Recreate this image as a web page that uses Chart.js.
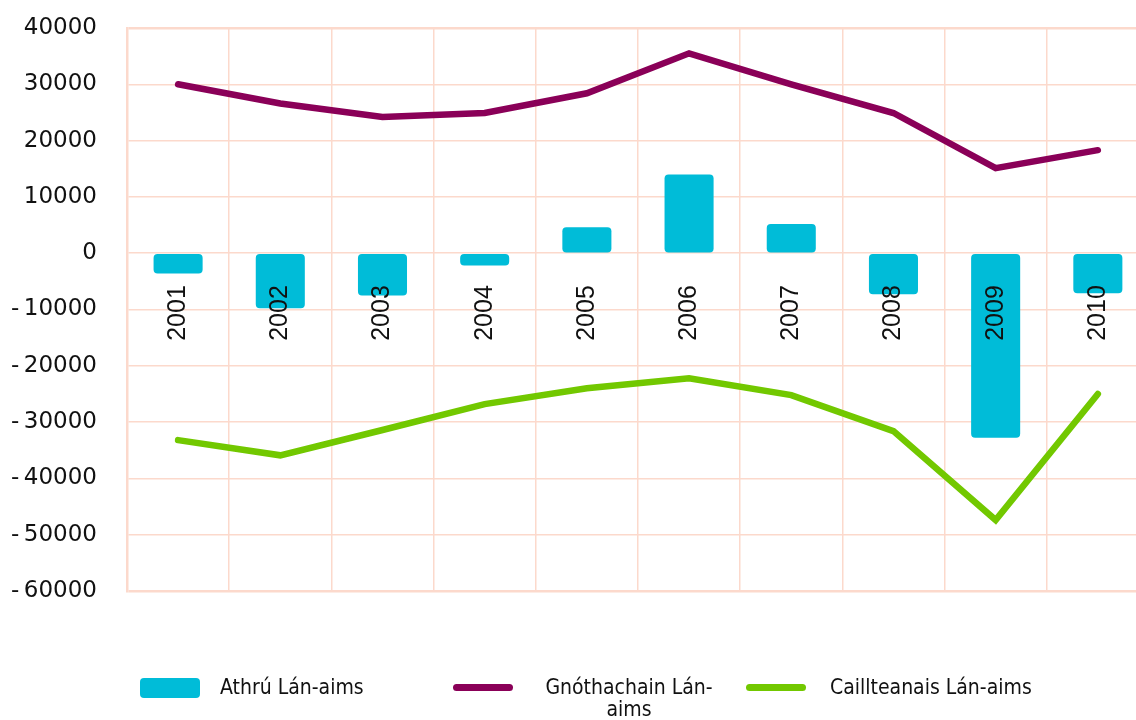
<!DOCTYPE html>
<html>
<head>
<meta charset="utf-8">
<script src="https://cdn.jsdelivr.net/npm/chart.js@4.4.1/dist/chart.umd.min.js"></script>
<style>
    html, body { margin: 0; padding: 0; background: #fff; overflow: hidden; }
    #wrap { position: relative; width: 1136px; height: 720px; overflow: hidden; }
    #myChart { position: absolute; left: 0; top: 0; }
    #legend { position: absolute; left: 0; top: 676px; width: 1136px; height: 44px;
        font-family: "Liberation Sans Narrow", "DejaVu Sans Condensed", "Roboto", sans-serif;
        font-size: 21px; color: #111; }
    .item { position: absolute; top: 0; display: flex; align-items: flex-start; }
    .item .sw { flex: none; margin-top: 2px; }
    .item .txt { line-height: 22px; text-align: center; }
    .item:nth-child(1) { left: 140px; }
    .item:nth-child(1) .txt { margin-left: 20px; }
    .item:nth-child(2) { left: 453px; }
    .item:nth-child(2) .txt { margin-left: 30px; width: 172px; }
    .item:nth-child(3) { left: 746px; }
    .item:nth-child(3) .txt { margin-left: 24px; }
</style>
</head>
<body>
<div id="wrap">
    <canvas id="myChart" width="1152" height="720"></canvas>
    <div id="legend"></div>
</div>
<script>
// Datos del gráfico
const years = ['2001', '2002', '2003', '2004', '2005', '2006', '2007', '2008', '2009', '2010'];
const athru = [-3600, -9800, -7500, -2200, 4600, 14000, 5200, -7300, -32800, -7100];
const gnothachain = [30000, 26600, 24200, 24900, 28400, 35500, 30000, 24900, 15100, 18300];
const caillteanais = [-33200, -35900, -31400, -26800, -24000, -22200, -25200, -31600, -47400, -25000];
const yTicks = [40000, 30000, 20000, 10000, 0, -10000, -20000, -30000, -40000, -50000, -60000];

const gridColor = '#fcd9cc';

// Leyenda en HTML para poder partir el texto en dos líneas
const htmlLegend = {
    id: 'htmlLegend',
    afterUpdate(chart) {
        const box = document.getElementById('legend');
        box.innerHTML = '';
        chart.data.datasets.forEach(ds => {
            const item = document.createElement('div');
            item.className = 'item';
            const sw = document.createElement('div');
            sw.className = 'sw';
            sw.style.width = '60px';
            sw.style.background = ds.type === 'line' ? ds.borderColor : ds.backgroundColor;
            if (ds.type === 'line') {
                sw.style.height = '7px';
                sw.style.borderRadius = '4px';
                sw.style.marginTop = '8px';
            } else {
                sw.style.height = '20px';
                sw.style.borderRadius = '4px';
            }
            const txt = document.createElement('div');
            txt.className = 'txt';
            txt.textContent = ds.label;
            item.appendChild(sw);
            item.appendChild(txt);
            box.appendChild(item);
        });
    }
};

const ctx = document.getElementById('myChart').getContext('2d');
const myChart = new Chart(ctx, {
    type: 'bar',
    data: {
        labels: years,
        datasets: [
            {
                type: 'bar',
                label: 'Athrú Lán-aims',
                data: athru,
                backgroundColor: '#00bcd8',
                borderRadius: 4,
                borderSkipped: false,
                categoryPercentage: 1,
                barPercentage: 0.48,
                order: 2
            },
            {
                type: 'line',
                label: 'Gnóthachain Lán-aims',
                data: gnothachain,
                borderColor: '#8a0058',
                borderWidth: 6.5,
                pointRadius: 0,
                tension: 0,
                borderCapStyle: 'round',
                borderJoinStyle: 'miter',
                fill: false,
                order: 1
            },
            {
                type: 'line',
                label: 'Caillteanais Lán-aims',
                data: caillteanais,
                borderColor: '#72c800',
                borderWidth: 6.5,
                pointRadius: 0,
                tension: 0,
                borderCapStyle: 'round',
                borderJoinStyle: 'miter',
                fill: false,
                order: 1
            }
        ]
    },
    options: {
        responsive: false,
        animation: false,
        layout: { padding: { top: 28, bottom: 129, left: 0, right: 0 } },
        plugins: {
            legend: { display: false },
            tooltip: { enabled: false }
        },
        scales: {
            x: {
                position: 'bottom',
                ticks: { display: false },
                grid: { color: gridColor, lineWidth: 1.5, drawTicks: false },
                border: { display: false }
            },
            xl: {
                type: 'category',
                position: { y: 0 },
                afterFit(scale) { scale.height = 0; },
                grid: { display: false },
                border: { display: false },
                ticks: {
                    z: 1,
                    minRotation: 90,
                    maxRotation: 90,
                    padding: 24,
                    color: '#111',
                    font: { family: 'Liberation Sans', size: 25 }
                }
            },
            y: {
                min: -60000,
                max: 40000,
                afterFit(scale) {
                    scale.width = 127;
                    scale.paddingTop = 0;
                    scale.paddingBottom = 0;
                },
                afterBuildTicks(scale) { scale.ticks = yTicks.map(v => ({ value: v })); },
                ticks: {
                    padding: 30,
                    color: '#111',
                    font: { family: 'DejaVu Sans', size: 23 },
                    callback: v => (v < 0 ? '-\u2009' + Math.abs(v) : String(v))
                },
                grid: {
                    color: gridColor,
                    drawTicks: false,
                    lineWidth: c => (c.tick && (c.tick.value === -60000 || c.tick.value === 40000) ? 2.5 : 1.5)
                },
                border: { display: true, color: gridColor, width: 2.5 }
            }
        }
    },
    plugins: [htmlLegend]
});
</script>
</body>
</html>
